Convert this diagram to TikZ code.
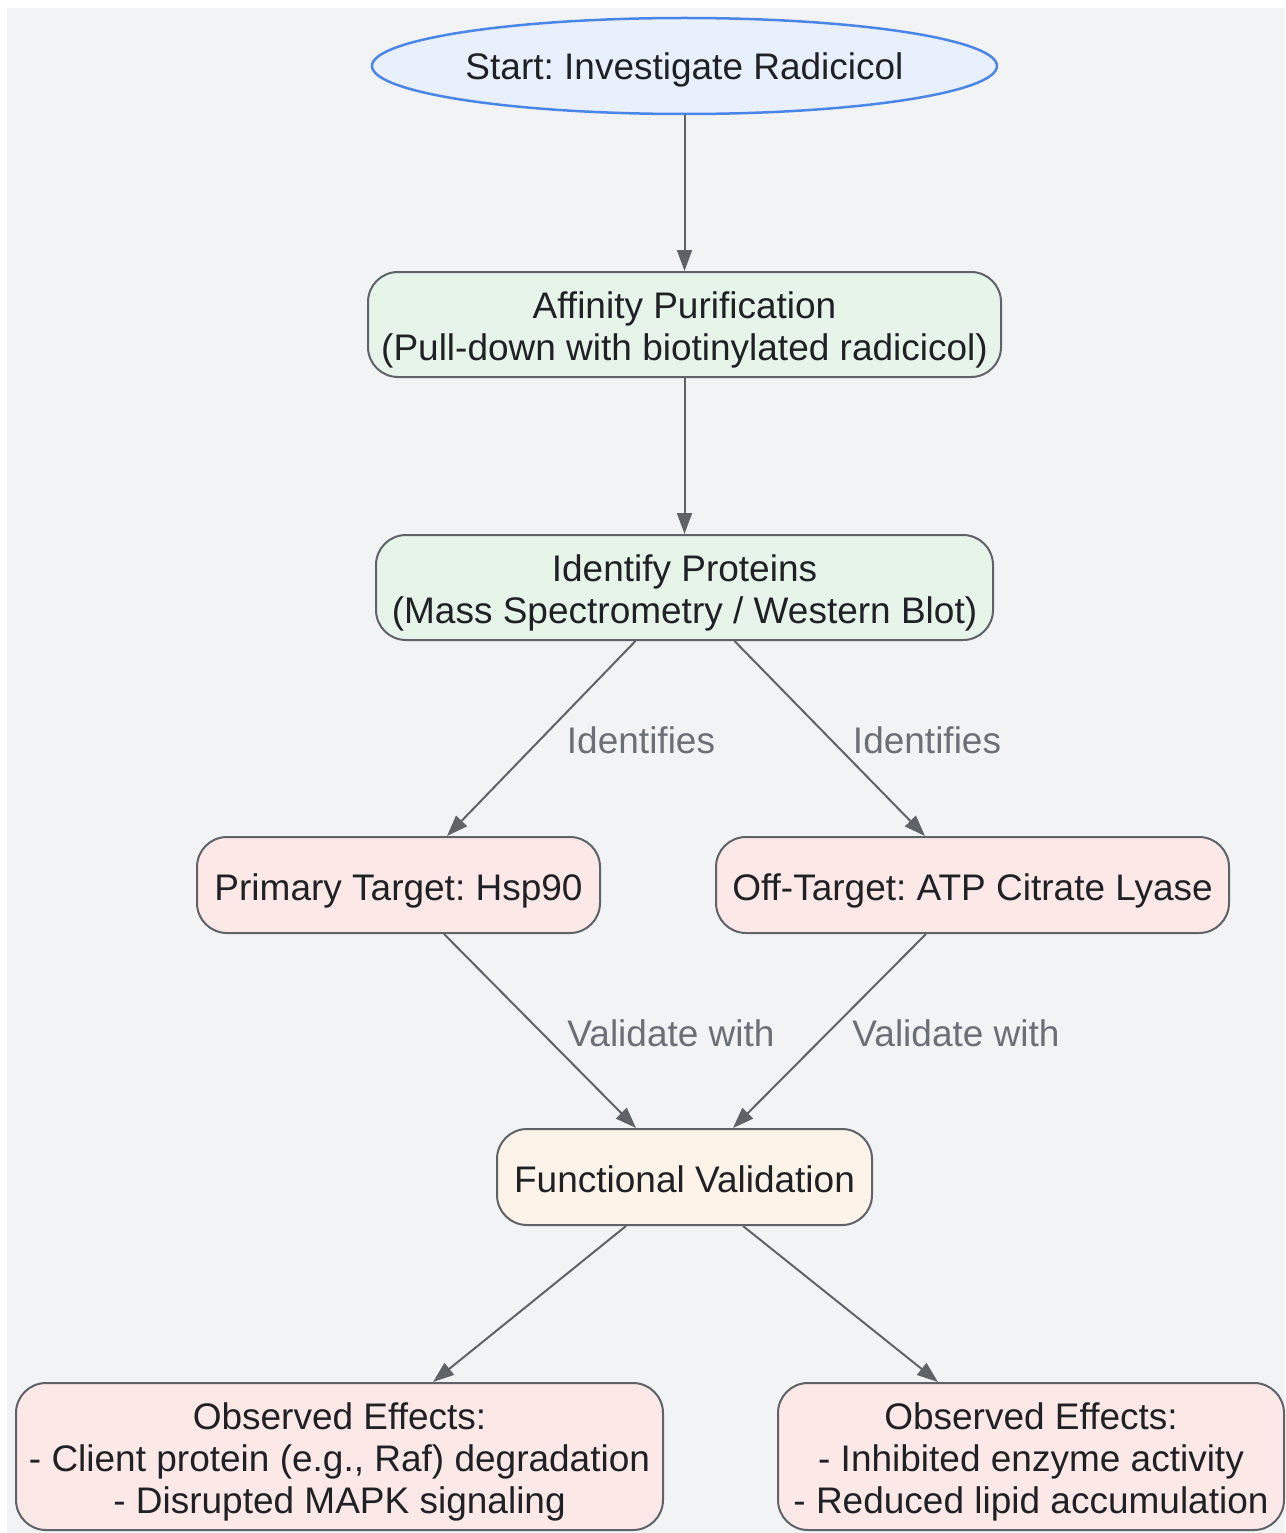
\documentclass[tikz,border=0pt]{standalone}
\usepackage{fontspec}
\setmainfont{Liberation Sans}
\usetikzlibrary{arrows.meta,shapes.geometric}
\frenchspacing
\definecolor{bgc}{HTML}{F1F3F5}
\definecolor{startfill}{HTML}{E8F0FD}
\definecolor{startdraw}{HTML}{4A86E8}
\definecolor{greenfill}{HTML}{E6F4EA}
\definecolor{pinkfill}{HTML}{FCE8E6}
\definecolor{orangefill}{HTML}{FEF3E8}
\definecolor{linec}{HTML}{5F6368}
\definecolor{textc}{HTML}{202124}
\definecolor{labc}{HTML}{6B6F76}
\newcommand{\dnText}[2][-7pt]{\raisebox{#1}[\height][\depth]{\begin{tabular}{@{}c@{}}#2\end{tabular}}}
\tikzset{
  base/.style={font=\fontsize{37}{42}\selectfont, text=textc, inner sep=0pt},
  boxnode/.style={base, draw=linec, line width=2pt, rounded corners=30pt, rectangle},
  startnode/.style={base, ellipse, draw=startdraw, fill=startfill, line width=2.5pt},
  conn/.style={draw=linec, line width=2pt, -{Triangle[length=21pt,width=15pt]}},
  elabel/.style={font=\fontsize{37}{42}\selectfont, text=labc, inner sep=0pt},
}
\begin{document}
\begin{tikzpicture}[x=1pt,y=-1pt]
\useasboundingbox (0,0) rectangle (1285,1533);
\fill[bgc] (7,8) rectangle (1285,1533);

\node[startnode, minimum width=625pt, minimum height=96pt] (start) at (684.5,66) {\dnText[-5pt]{Start: Investigate Radicicol}};
\node[boxnode, fill=greenfill, minimum width=633pt, minimum height=105pt] (affin) at (684.5,324.5) {\dnText{Affinity Purification\\(Pull-down with biotinylated radicicol)}};
\node[boxnode, fill=greenfill, minimum width=617pt, minimum height=105pt] (ident) at (684.5,587.5) {\dnText{Identify Proteins\\(Mass Spectrometry / Western Blot)}};
\node[boxnode, fill=pinkfill, minimum width=403pt, minimum height=96pt] (prim) at (398.5,885) {\dnText{Primary Target: Hsp90}};
\node[boxnode, fill=pinkfill, minimum width=513pt, minimum height=96pt] (off) at (972.5,885) {\dnText{Off-Target: ATP Citrate Lyase}};
\node[boxnode, fill=orangefill, minimum width=375pt, minimum height=96pt] (func) at (684.5,1177) {\dnText{Functional Validation}};
\node[boxnode, fill=pinkfill, minimum width=647pt, minimum height=147pt] (obsl) at (339.5,1456.5) {\dnText{Observed Effects:\\- Client protein (e.g., Raf) degradation\\- Disrupted MAPK signaling}};
\node[boxnode, fill=pinkfill, minimum width=506pt, minimum height=147pt] (obsr) at (1031,1456.5) {\dnText{Observed Effects:\\- Inhibited enzyme activity\\- Reduced lipid accumulation}};

\draw[conn] (start) -- (affin);
\draw[conn] (affin) -- (ident);
\draw[conn] ([xshift=-49pt]ident.south) -- ([xshift=48.5pt]prim.north);
\draw[conn] ([xshift=50pt]ident.south) -- ([xshift=-47.5pt]off.north);
\draw[conn] ([xshift=45.5pt]prim.south) -- ([xshift=-48.5pt]func.north);
\draw[conn] ([xshift=-46.5pt]off.south) -- ([xshift=48.5pt]func.north);
\draw[conn] ([xshift=-58.5pt]func.south) -- ([xshift=93.5pt]obsl.north);
\draw[conn] ([xshift=58.5pt]func.south) -- ([xshift=-93pt]obsr.north);

\node[elabel] (l1) at (641,740) {Identifies};
\node[elabel] (l2) at (927,740) {Identifies};
\node[elabel] (l3) at (671,1033) {Validate with};
\node[elabel] (l4) at (956,1033) {Validate with};
\end{tikzpicture}
\end{document}
